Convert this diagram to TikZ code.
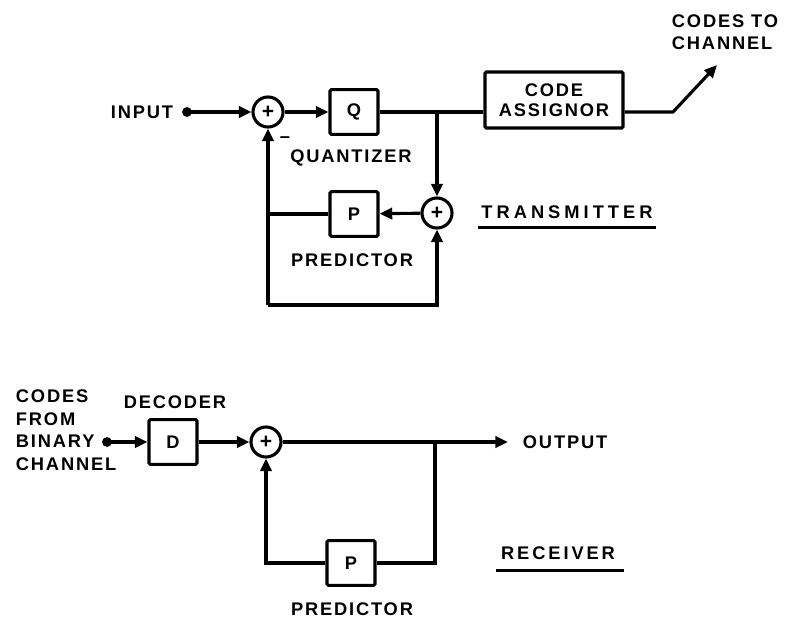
\documentclass[tikz,border=0pt]{standalone}
\usepackage{fontspec}
\setmainfont{Liberation Sans}
\newfontfamily\lblfont[LetterSpace=10]{Liberation Sans}
\usetikzlibrary{calc, positioning, arrows.meta}

\begin{document}
\begin{tikzpicture}[x=0.025cm, y=-0.025cm, >={Triangle[length=9pt, width=8pt]}, line width=2.2pt,
    sumnode/.style={circle, draw, minimum size=0.75cm, inner sep=0pt, font=\bfseries\fontsize{15}{15}\selectfont},
    blk/.style={draw, rounded corners=1pt, minimum width=1.2cm, minimum height=1.12cm, inner sep=0pt, font=\lblfont\bfseries\fontsize{13}{15}\selectfont},
    lbl/.style={font=\lblfont\bfseries\fontsize{13}{16}\selectfont, inner sep=1pt}]
    \useasboundingbox (0,0) rectangle (797,620);

    % transmitter
    \node[lbl, anchor=east] (input) at (176,112) {INPUT};
    \coordinate (in) at (187,112);
    \fill (in) circle (3.5pt);
    \node[sumnode] (sum1) at (268,112) {+};
    \node[blk] (q) at (354,112) {Q};
    \node[blk, minimum width=3.45cm, minimum height=1.4cm, align=center] (ca) at (554,100) {CODE\\[-1pt]ASSIGNOR};
    \node[lbl, align=left] (cto) at (725,32) {CODES TO\\CHANNEL};
    \coordinate (br1) at (437,112);
    \coordinate (bend) at (673,112);
    \coordinate (tip) at (717,65);
    \draw[->] (in) -- (sum1);
    \draw[->] (sum1) -- (q);
    \draw (q.east) -- (q.east -| ca.west);
    \draw[->] (ca.east |- bend) -- (bend) -- (tip);

    \node[sumnode] (sum2) at (437,213) {+};
    \node[blk] (p1) at (354,214) {P};
    \coordinate (lowL) at (268,305);
    \coordinate (lowR) at (437,305);
    \draw[->] (br1) -- (sum2);
    \draw[->] (sum2) -- (p1);
    \draw (p1) -- (p1 -| lowL);
    \draw[->] (lowL) -- (sum1);
    \draw[->] (lowL) -- (lowR) -- (sum2);

    \node[lbl] (minus) at (285,140) {–};
    \node[lbl] (quant) at (351,158) {QUANTIZER};
    \node[lbl] (pred1) at (352,260) {PREDICTOR};
    \node[lbl, font=\lblfont\bfseries\fontsize{13}{16}\selectfont\addfontfeature{LetterSpace=22}] (trans) at (567,212) {TRANSMITTER};
    \draw[line width=1.8pt] (trans.south west) ++(0,6) -- ($(trans.south east)+(0,6)$);

    % receiver
    \node[lbl, anchor=west, align=left] (cfrom) at (13,430) {CODES\\FROM\\BINARY\\CHANNEL};
    \coordinate (rin) at (107,442);
    \fill (rin) circle (3.5pt);
    \node[blk] (d) at (173,442) {D};
    \node[lbl] (dec) at (175,402) {DECODER};
    \node[sumnode] (sum3) at (266,442) {+};
    \coordinate (otip) at (508,442);
    \node[lbl, anchor=west] (out) at (520,442) {OUTPUT};
    \coordinate (br2) at (435,442);
    \coordinate (rlowR) at (435,563);
    \coordinate (rlowL) at (266,563);
    \node[blk] (p2) at (351,563) {P};
    \draw[->] (rin) -- (d);
    \draw[->] (d) -- (sum3);
    \draw[->] (sum3) -- (otip);
    \draw (br2) -- (rlowR) -- (p2);
    \draw[->] (p2) -- (rlowL) -- (sum3);

    \node[lbl] (pred2) at (352,609) {PREDICTOR};
    \node[lbl, font=\lblfont\bfseries\fontsize{13}{16}\selectfont\addfontfeature{LetterSpace=16}] (recv) at (558,553) {RECEIVER};
    \draw[line width=1.8pt] (recv.south west) ++(-2,8) -- ($(recv.south east)+(6,8)$);
\end{tikzpicture}
\end{document}
